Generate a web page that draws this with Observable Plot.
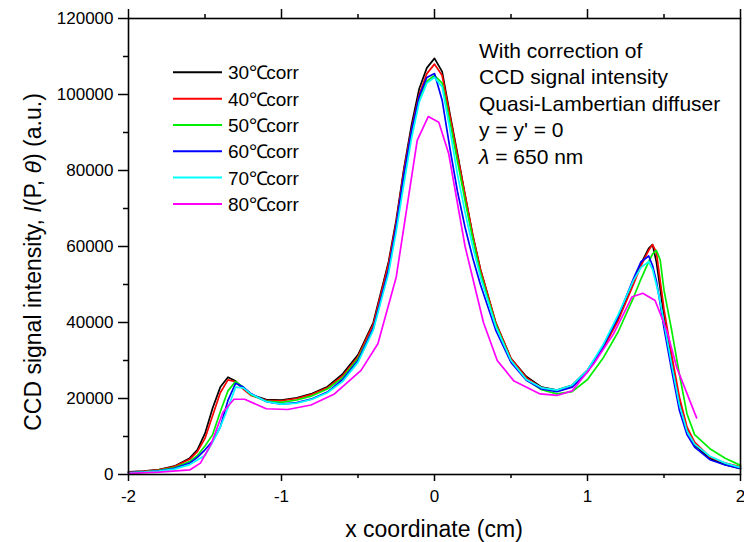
<!DOCTYPE html>
<html><head><meta charset="utf-8">
<script src="https://cdn.jsdelivr.net/npm/d3@7"></script>
<script src="https://cdn.jsdelivr.net/npm/@observablehq/plot@0.6"></script>
<style>body{margin:0;background:#fff;font-family:"Liberation Sans",Arial,sans-serif}</style>
</head><body><div id="chart"></div><script>
const xs = [-2,-1.9,-1.8,-1.7,-1.6,-1.55,-1.5,-1.45,-1.4,-1.35,-1.3,-1.25,-1.2,-1.1,-1,-0.9,-0.8,-0.7,-0.6,-0.5,-0.4,-0.3,-0.25,-0.2,-0.15,-0.1,-0.05,0,0.05,0.1,0.15,0.2,0.25,0.3,0.4,0.5,0.6,0.7,0.8,0.9,1,1.1,1.2,1.3,1.35,1.4,1.425,1.45,1.475,1.5,1.55,1.6,1.65,1.7,1.8,1.9,2];
const s30 = [700,900,1300,2200,4300,6500,10800,17500,23000,25600,24600,22600,21000,19700,19600,20200,21300,23100,26500,31500,40000,56000,67000,80500,92000,101500,107000,109500,106000,95000,84500,73500,63000,54000,40000,30500,25800,23000,22200,23500,27500,33500,41000,50500,55500,59500,60500,56000,49000,41500,30000,19500,11800,7800,4200,2600,1500];
const s40 = [600,800,1200,2100,4000,6000,9500,15500,21500,24900,24400,22500,20800,19500,19400,20000,21100,22800,26000,31000,39500,55500,66500,80000,91000,100000,105500,108000,105000,94500,84000,73500,63000,54000,40000,30500,25500,22800,22000,23200,27000,33000,40500,50000,55000,59000,60500,58500,51000,43500,31500,20500,12500,8500,4600,3000,2000];
const s50 = [500,700,1100,1800,3400,5000,7500,10500,16500,22000,24500,23000,21000,19300,19000,19600,20700,22500,25500,30500,38500,54000,65000,78500,90000,99000,103500,105000,103000,93000,82500,72000,62000,53000,39500,30000,25000,22300,21200,21800,25000,30500,37500,46500,51500,56000,58000,59000,56500,48500,38000,26500,16000,10500,6800,4300,2400];
const s60 = [500,650,950,1600,3000,4500,6500,8800,12500,19500,24000,23000,21300,19200,18500,18900,19900,21700,25000,30000,38500,54000,65500,79000,90500,99500,104500,105500,98500,86000,74500,65000,57000,50000,38000,29500,24800,22500,21800,23000,27000,33500,41500,51500,56000,57500,55000,51000,45000,38500,27500,17000,10500,7200,3900,2500,1600];
const s70 = [400,600,900,1400,2600,3800,5000,8500,12500,17500,23000,22800,21200,19200,18500,18800,19800,21500,24500,29500,38000,53000,64000,76500,88500,98000,103000,104500,102000,91000,79000,69000,60000,52000,39000,30000,25000,22800,22200,23500,27500,34000,42000,51000,54500,56000,54000,50000,45500,40000,29000,18500,11500,8000,4800,3000,1800];
const x80 = [-2,-1.8,-1.6,-1.53,-1.46,-1.383,-1.311,-1.241,-1.1,-0.959,-0.807,-0.654,-0.48,-0.37,-0.25,-0.113,-0.041,0.028,0.093,0.2,0.32,0.41,0.517,0.69,0.8,0.9,1.04,1.17,1.257,1.29,1.361,1.442,1.518,1.583,1.713];
const s80 = [300,600,1200,3000,8000,16400,19800,19800,17300,17100,18300,21200,27400,34400,52000,87900,94200,92700,84400,60000,40000,30000,24700,21200,20800,22000,29100,37000,44000,46700,47700,45800,37900,28200,14900];

const angles = ["30","40","50","60","70","80"];
const suffix = "℃corr";
const colors = ["#000000","#ff0000","#00ee00","#0000ff","#00ffff","#ff00ff"];
const xMajor = [-2,-1,0,1,2];
const xMinor = [-1.5,-0.5,0.5,1.5];
const yMajor = [0,20000,40000,60000,80000,100000,120000];
const yMinor = [10000,30000,50000,70000,90000,110000];
const xTitle = "x coordinate (cm)";
const notes = ["With correction of","CCD signal intensity","Quasi-Lambertian diffuser","y = y' = 0"];

const names = angles.map(a => a + suffix);
const seriesX = [xs,xs,xs,xs,xs,x80];
const seriesY = [s30,s40,s50,s60,s70,s80];
const rows = names.flatMap((n,k) => seriesX[k].map((x,i) => ({x, y: seriesY[k][i], name: n})));

const F = "Liberation Sans, Arial, sans-serif";
const chart = Plot.plot({
  width: 744, height: 542,
  marginLeft: 128, marginRight: 4, marginTop: 18, marginBottom: 68,
  style: {fontFamily: F, fontSize: "17px", background: "white", color: "black", overflow: "visible"},
  x: {domain: [-2, 2]},
  y: {domain: [0, 120000]},
  color: {domain: names, range: colors},
  marks: [
    Plot.line(rows, {x: "x", y: "y", z: "name", stroke: "name", strokeWidth: 1.7}),
    Plot.frame({stroke: "black", strokeWidth: 1.6}),
    Plot.axisX({ticks: xMajor, tickSize: 7, tickPadding: 8, tickFormat: d => String(d), label: null, strokeWidth: 1.5, fontSize: 17}),
    Plot.axisX({ticks: xMinor, tickSize: 4, text: null, label: null, strokeWidth: 1.5}),
    Plot.axisX({anchor: "top", ticks: xMajor, tickSize: 10, text: null, label: null, strokeWidth: 1.5}),
    Plot.axisX({anchor: "top", ticks: xMinor, tickSize: 5, text: null, label: null, strokeWidth: 1.5}),
    Plot.axisY({ticks: yMajor, tickSize: 10, tickPadding: 5, tickFormat: d => String(d), label: null, strokeWidth: 1.5, fontSize: 17}),
    Plot.axisY({ticks: yMinor, tickSize: 5, text: null, label: null, strokeWidth: 1.5})
  ]
});
document.getElementById("chart").appendChild(chart);

const svg = d3.select(chart);
// axis titles
const yt = svg.append("text")
  .attr("transform", "translate(33,262) rotate(-90)")
  .attr("text-anchor", "middle").attr("dominant-baseline", "central")
  .style("font-family", F).style("font-size", "23px").attr("fill", "black");
yt.append("tspan").text("CCD signal intensity, ");
yt.append("tspan").style("font-style", "italic").text("I");
yt.append("tspan").text("(P, ");
yt.append("tspan").style("font-style", "italic").text("θ");
yt.append("tspan").text(") (a.u.)");

svg.append("text").attr("x", 434).attr("y", 537).attr("text-anchor", "middle")
  .style("font-family", F).style("font-size", "23px").attr("fill", "black").text(xTitle);

// legend
angles.forEach((a, i) => {
  const y = 72.3 + i * 26.33;
  svg.append("line").attr("x1", 173).attr("x2", 222).attr("y1", y).attr("y2", y)
    .attr("stroke", colors[i]).attr("stroke-width", 2);
  const t = svg.append("text").attr("x", 228).attr("y", y + 7).attr("text-anchor", "start")
    .style("font-family", F).style("font-size", "19px").attr("fill", "black");
  t.append("tspan").text(a);
  t.append("tspan").style("letter-spacing", "-4px").text("℃");
  t.append("tspan").attr("dx", 2).text("corr");
});

// annotation
notes.forEach((t, i) => {
  svg.append("text").attr("x", 479).attr("y", 57.5 + i * 26.5).attr("text-anchor", "start")
    .style("font-family", F).style("font-size", "21px").attr("fill", "black").text(t);
});
const lam = svg.append("text").attr("x", 479).attr("y", 57.5 + 4 * 26.5).attr("text-anchor", "start")
  .style("font-family", F).style("font-size", "21px").attr("fill", "black");
lam.append("tspan").style("font-style", "italic").text("λ");
lam.append("tspan").text(" = 650 nm");
</script></body></html>
